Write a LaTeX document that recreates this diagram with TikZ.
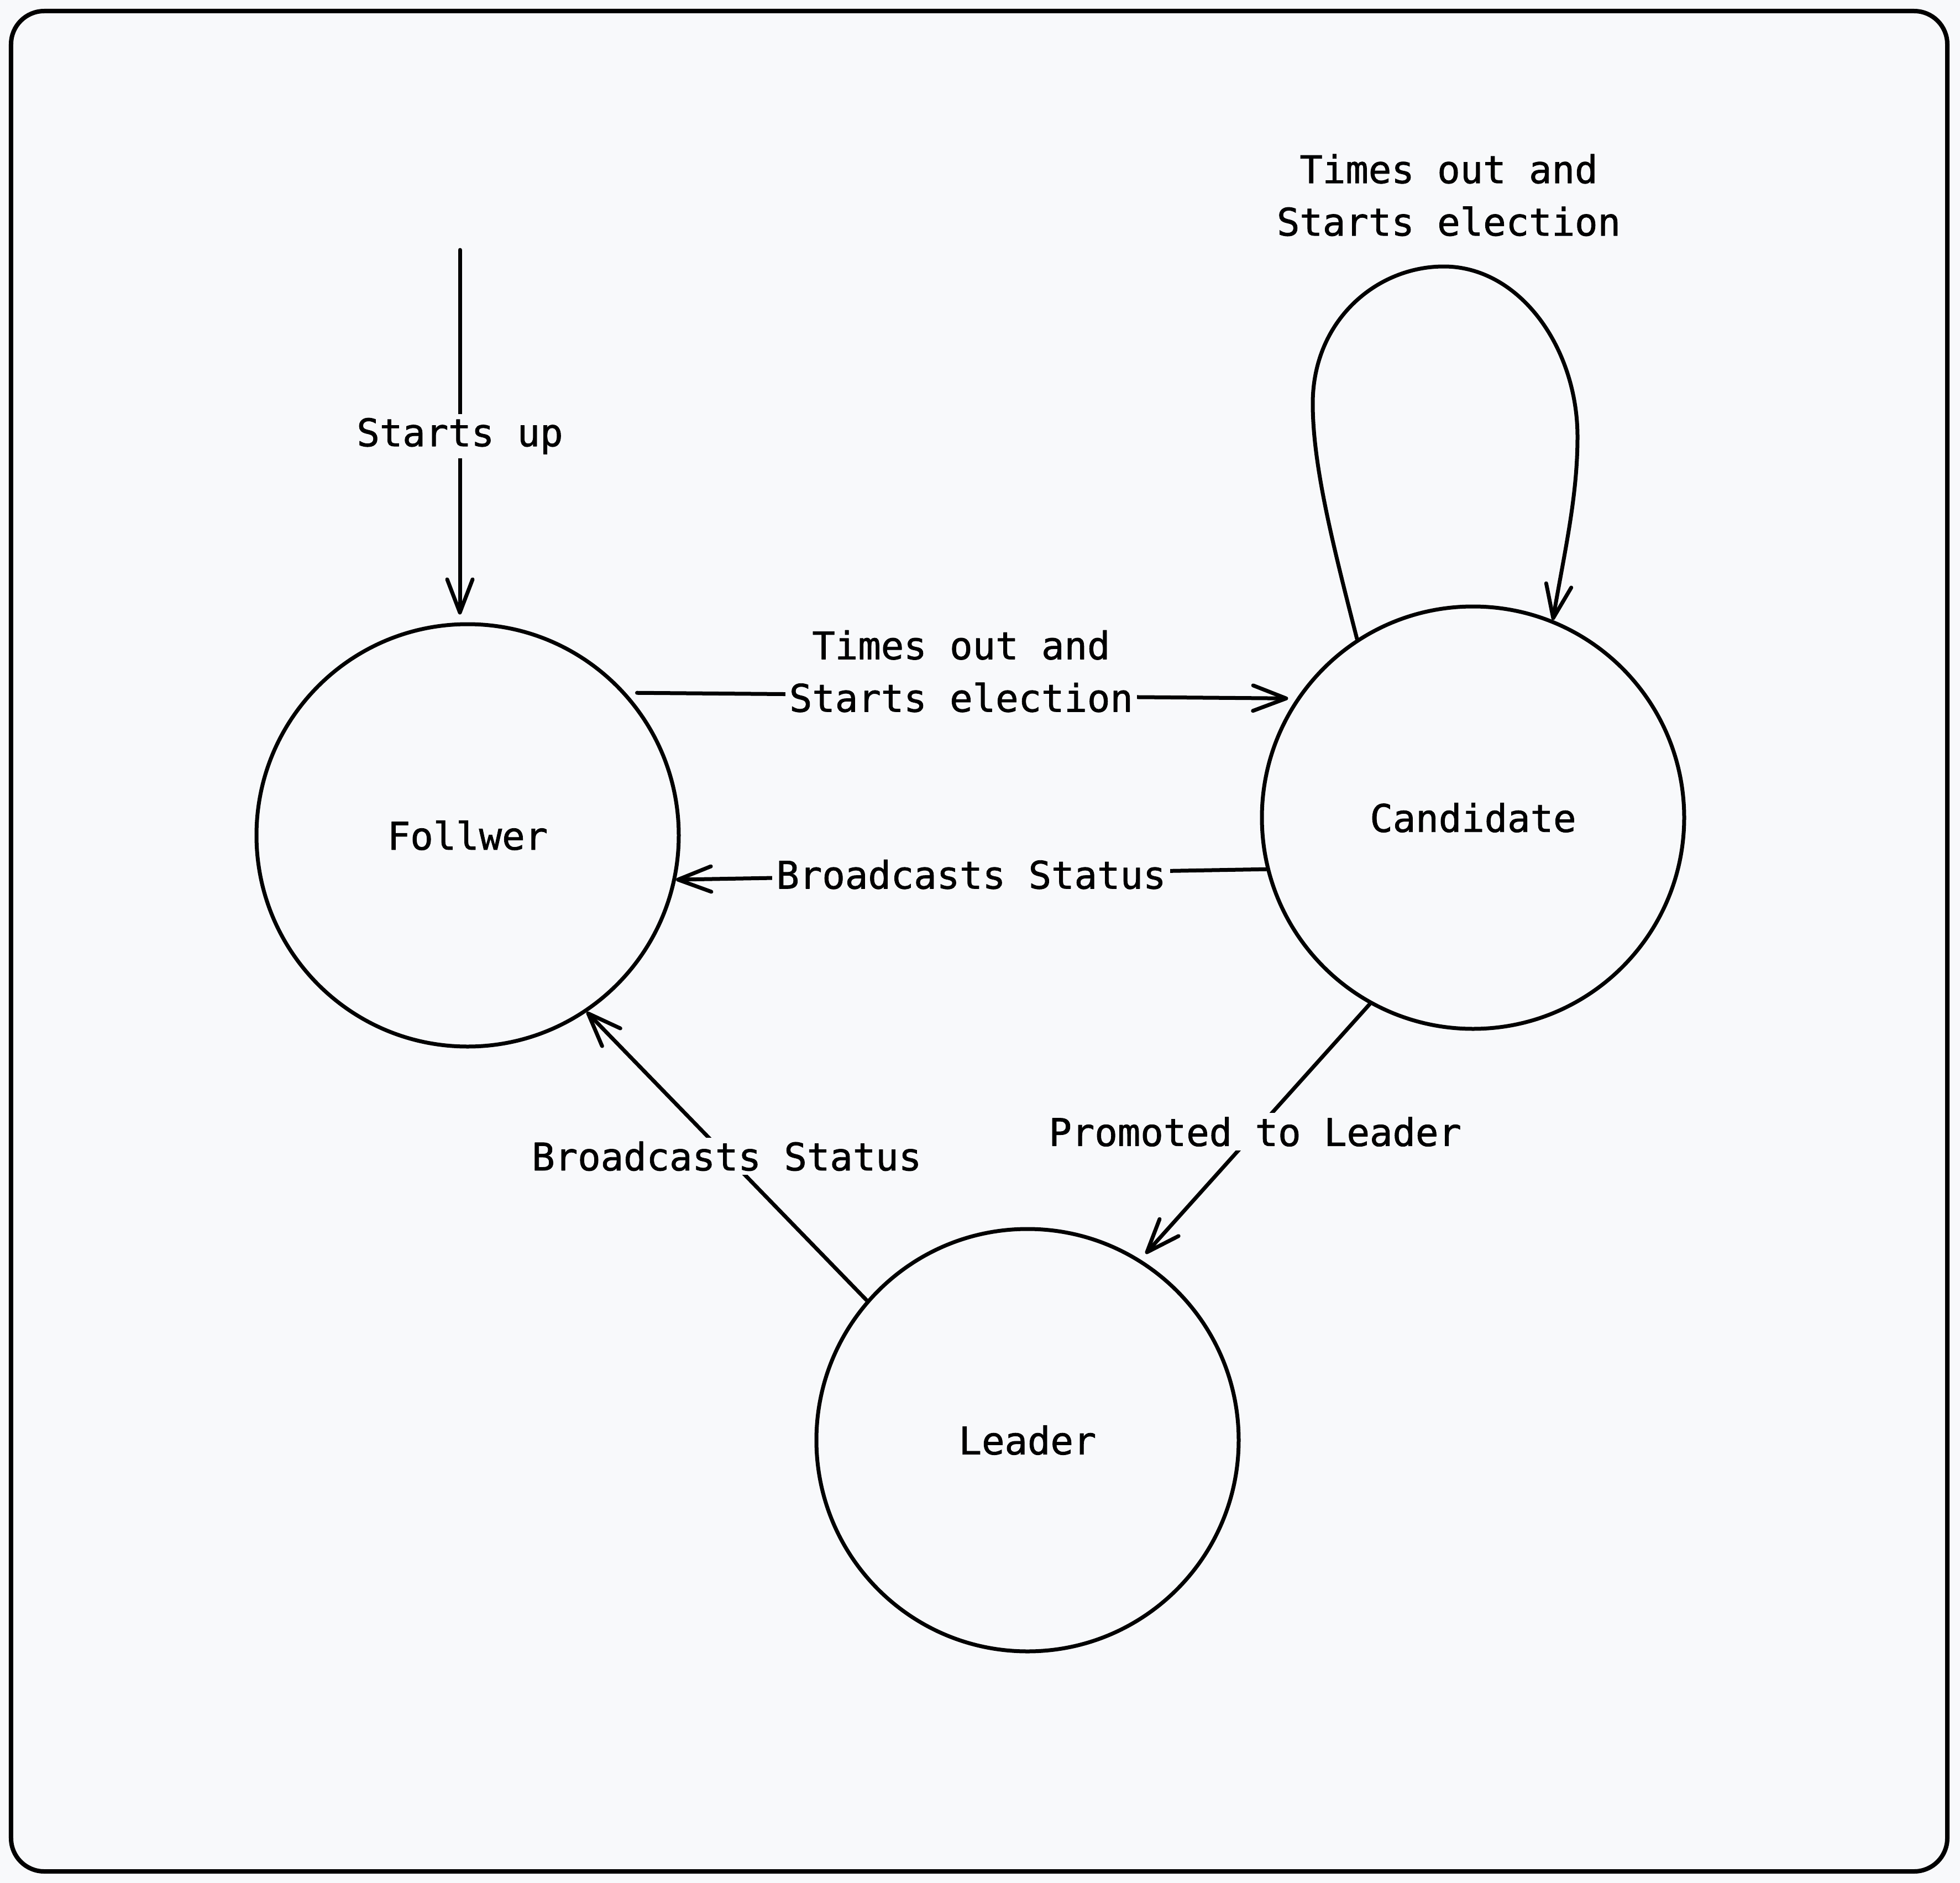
\documentclass[tikz,border=0pt]{standalone}
\usepackage{fontspec}
\setmonofont{DejaVu Sans Mono}[RawFeature={embolden=1.2}]
\usetikzlibrary{arrows.meta,calc}
\definecolor{canvas}{HTML}{F8F9FB}
\definecolor{ink}{HTML}{000000}
\newcommand{\statefont}{\fontsize{19.6}{27}\selectfont\ttfamily}
\tikzset{
  state/.style={circle, draw=ink, fill=canvas, line width=0.07cm, minimum size=7.64cm, inner sep=0pt, font=\statefont},
  lab/.style={fill=canvas, align=center, inner sep=2pt, font=\statefont},
  flow/.style={-{Straight Barb[length=0.6cm, width=0.46cm, round]}, draw=ink, line width=0.07cm, line cap=round, line join=round},
}

\begin{document}
\begin{tikzpicture}
    \fill[canvas] (0,0) rectangle (35.46,-34.06);
    \draw[ink, line width=0.08cm, rounded corners=0.6cm] (0.2,-0.2) rectangle (35.23,-33.85);
    \node[state] (follower) at (8.46,-15.11) {Follwer};
    \node[state] (candidate) at (26.65,-14.79) {Candidate};
    \node[state] (leader) at (18.59,-26.05) {Leader};
    \coordinate (start) at (8.32,-4.52);
    \node[lab] (looplab) at (26.21,-3.53) {Times out and\\Starts election};
    \draw[flow, shorten >=0.14cm] (start) -- node[lab]{Starts up} (start |- follower.north);
    \draw[flow, shorten <=0.2cm, shorten >=0.15cm] (follower.42) -- node[lab, yshift=0.44cm]{Times out and\\Starts election} (candidate.146);
    \draw[flow] (candidate.194) -- node[lab]{Broadcasts Status} (follower.-12);
    \draw[flow, shorten >=0.14cm] (candidate.241) -- node[lab]{Promoted to Leader} (leader.58);
    \draw[flow] (leader.139) -- node[lab]{Broadcasts Status} (follower.-56);
    % self loop on the candidate
    \draw[flow] (candidate.123) .. controls (24.1,-9.8) and (23.75,-8.4) .. (23.75,-7.3)
      .. controls (23.75,-5.8) and (24.9,-4.82) .. (26.12,-4.82)
      .. controls (27.5,-4.82) and (28.54,-6.3) .. (28.54,-7.9)
      .. controls (28.54,-9.0) and (28.3,-10.0) .. (candidate.68);
\end{tikzpicture}
\end{document}
